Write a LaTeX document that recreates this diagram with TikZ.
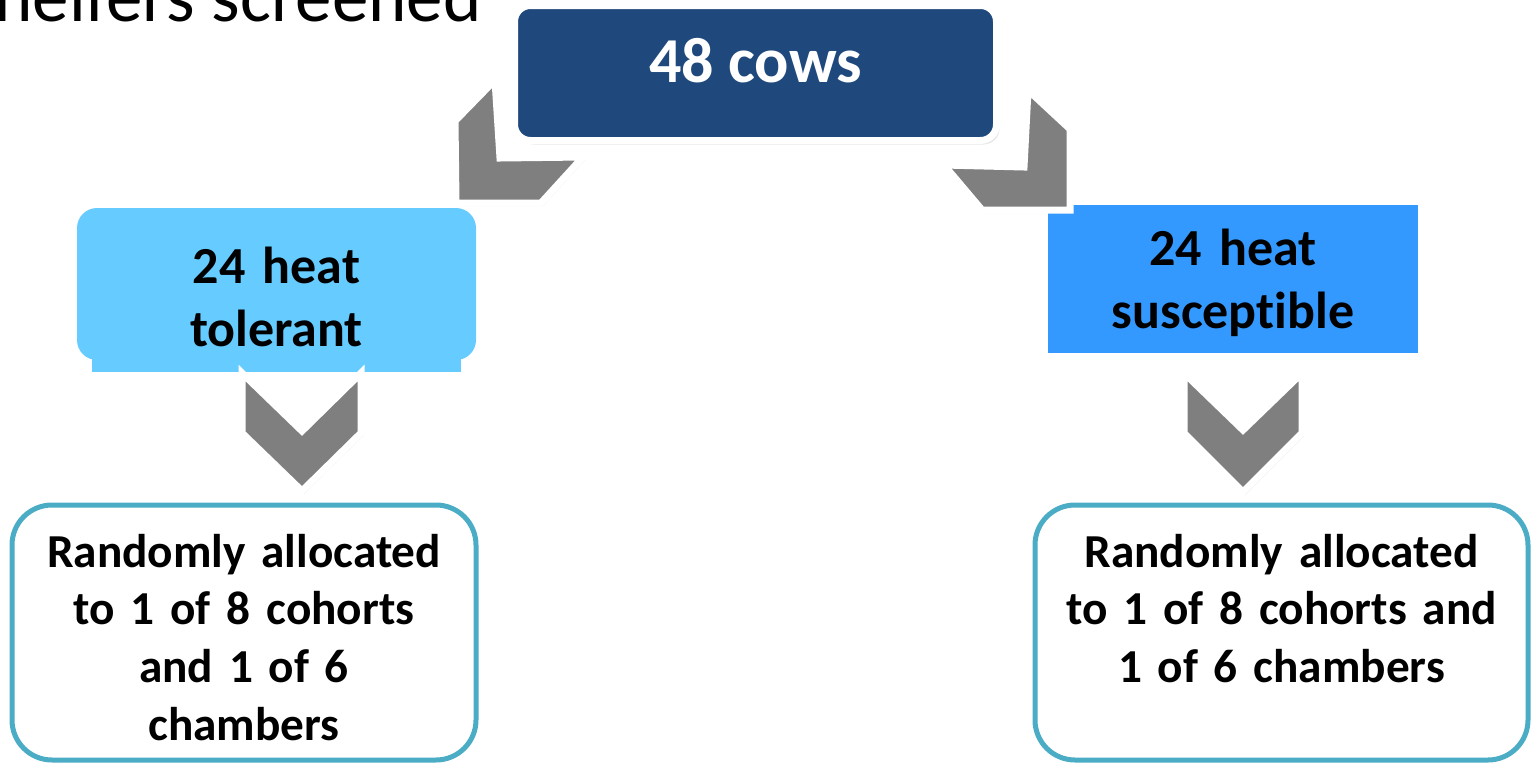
\documentclass[tikz,border=0pt]{standalone}
\usepackage{fontspec}
\setmainfont{Carlito}[Ligatures={NoCommon,NoContextual},RawFeature={-calt,-dlig}]
\usetikzlibrary{shadows}
\definecolor{cowblue}{HTML}{1F497D}
\definecolor{tolblue}{HTML}{66CCFF}
\definecolor{susblue}{HTML}{3399FF}
\definecolor{chevgray}{HTML}{7F7F7F}
\definecolor{allocline}{HTML}{4BACC6}

\begin{document}
\begin{tikzpicture}[x=1pt,y=-1pt,
  chev/.style={fill=chevgray,draw=white,line width=7pt,line join=miter,
    drop shadow={shadow xshift=2pt,shadow yshift=-3pt,opacity=0.25}},
  grp/.style={inner sep=0pt,align=center,font=\bfseries\fontsize{52}{63.5}\selectfont},
  alloc/.style={draw=allocline,line width=5pt,fill=white,rounded corners=40pt,
    inner sep=0pt,align=center,font=\bfseries\fontsize{47.3}{57.7}\selectfont,
    text height=62pt,text depth=193pt}]
  \useasboundingbox (0,0) rectangle (1532,763);
  \clip (0,0) rectangle (1532,763);

  \node[anchor=base east,font=\fontsize{73}{88}\selectfont] (head) at (485,21) {heifers screened};

  \node[fill=cowblue,draw=white,line width=7pt,rounded corners=16pt,inner sep=0pt,
    minimum width=482pt,text height=76.5pt,text depth=58.5pt,text=white,
    font=\bfseries\fontsize{64}{77}\selectfont,
    drop shadow={shadow xshift=3pt,shadow yshift=-4pt,opacity=0.2}] (cows) at (755.5,73) {48 cows};

  \fill[tolblue] (92,340) rectangle (461,372);
  \node[grp,fill=tolblue,rounded corners=20pt,text width=399pt,
    text height=75pt,text depth=77pt] (tol) at (276.5,284) {24 heat\\tolerant};
  \node[grp,fill=susblue,text width=370pt,
    text height=60pt,text depth=88pt] (sus) at (1233,279) {24 heat\\susceptible};

  \node[alloc,text width=464pt] (alloc1) at (244,632.5) {Randomly allocated\\to 1 of 8 cohorts\\and 1 of 6\\chambers};
  \node[alloc,text width=493pt] (alloc2) at (1281.5,632.5) {Randomly allocated\\to 1 of 8 cohorts and\\1 of 6 chambers};

  \draw[chev] (455,121) -- (495,80) -- (500,158) -- (583,157) -- (541,203) -- (456,203) -- cycle;
  \draw[chev] (1028,90) -- (1070,129) -- (1070,210) -- (982,210) -- (944,165) -- (1024,167) -- cycle;
  \draw[chev] (242,373) -- (302,431) -- (361,373) -- (361,433) -- (302,491) -- (242,433) -- cycle;
  \draw[chev] (1184,373) -- (1243,430) -- (1302,373) -- (1302,433) -- (1243,492) -- (1184,433) -- cycle;
\end{tikzpicture}
\end{document}
